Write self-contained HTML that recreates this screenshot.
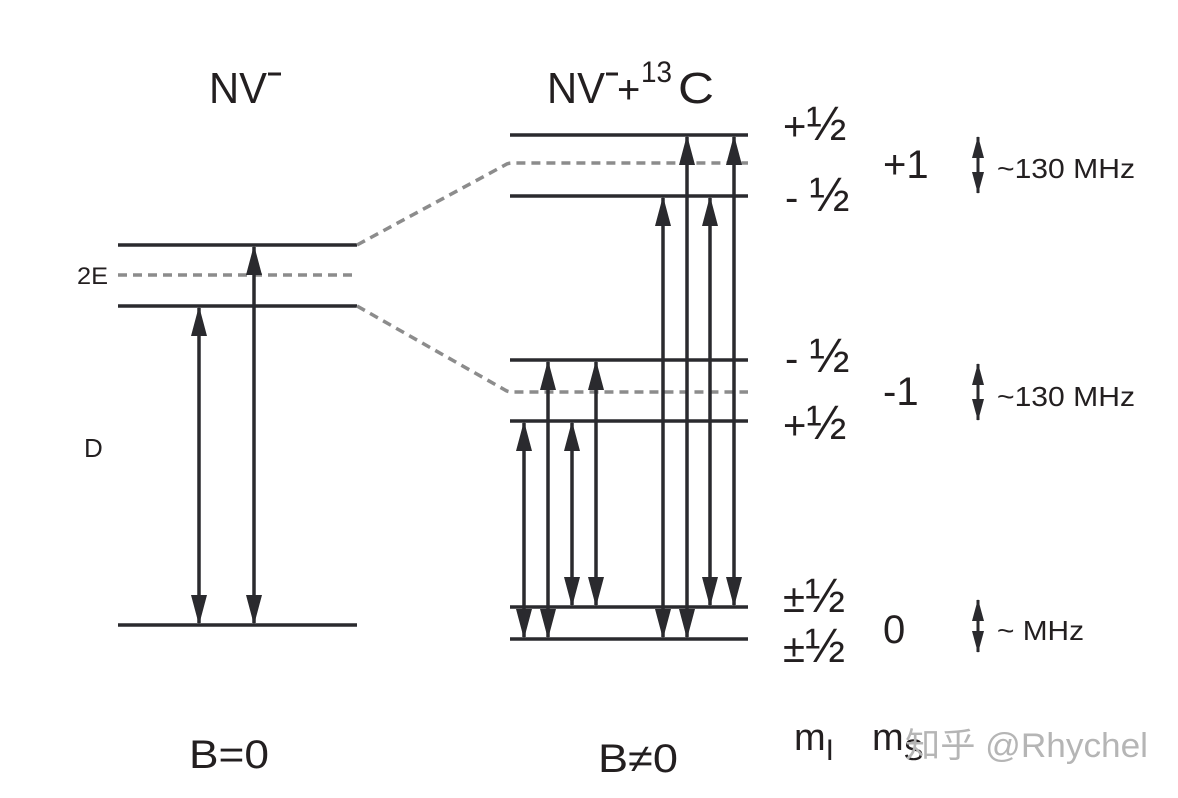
<!DOCTYPE html>
<html><head><meta charset="utf-8"><style>
html,body{margin:0;padding:0;background:#fff;}
svg{display:block;}
text{font-family:"Liberation Sans","Noto Sans CJK SC",sans-serif;fill:#231f20;}
</style></head><body>
<svg width="1178" height="798" viewBox="0 0 1178 798" xmlns="http://www.w3.org/2000/svg">
<defs>
<marker id="a" viewBox="0 0 30 16" refX="28" refY="8" markerWidth="30" markerHeight="16" markerUnits="userSpaceOnUse" orient="auto-start-reverse">
<path d="M0,0 L30,8 L0,16 z" fill="#2a2a2e"/>
</marker>
<marker id="b" viewBox="0 0 22 12" refX="21" refY="6" markerWidth="22" markerHeight="12" markerUnits="userSpaceOnUse" orient="auto-start-reverse">
<path d="M0,0 L22,6 L0,12 z" fill="#2a2a2e"/>
</marker>
</defs>
<g stroke="#2a2a2e" stroke-width="3.5" fill="none">
<line x1="118" y1="245" x2="357" y2="245"/>
<line x1="118" y1="306" x2="357" y2="306"/>
<line x1="118" y1="625" x2="357" y2="625"/>
<line x1="510" y1="135" x2="748" y2="135"/>
<line x1="510" y1="196" x2="748" y2="196"/>
<line x1="510" y1="360" x2="748" y2="360"/>
<line x1="510" y1="421" x2="748" y2="421"/>
<line x1="510" y1="607" x2="748" y2="607"/>
<line x1="510" y1="639" x2="748" y2="639"/>
</g>
<g stroke="#8c8c8c" stroke-width="3.5" stroke-dasharray="9,6" fill="none">
<line x1="118" y1="275" x2="357" y2="275"/>
<path d="M357,245 L505,165 Q508,163 512,163 L748,163"/>
<path d="M357,306 L505,390 Q508,392 512,392 L748,392"/>
</g>
<g stroke="#2a2a2e" stroke-width="3.5" marker-start="url(#a)" marker-end="url(#a)">
<line x1="199" y1="308" x2="199" y2="623"/>
<line x1="254" y1="247" x2="254" y2="623"/>
<line x1="524" y1="423" x2="524" y2="637"/>
<line x1="548" y1="362" x2="548" y2="637"/>
<line x1="572" y1="423" x2="572" y2="605"/>
<line x1="596" y1="362" x2="596" y2="605"/>
<line x1="663" y1="198" x2="663" y2="637"/>
<line x1="687" y1="137" x2="687" y2="637"/>
<line x1="710" y1="198" x2="710" y2="605"/>
<line x1="734" y1="137" x2="734" y2="605"/>
</g>
<g stroke="#2a2a2e" stroke-width="3" marker-start="url(#b)" marker-end="url(#b)">
<line x1="978" y1="137" x2="978" y2="193"/>
<line x1="978" y1="364" x2="978" y2="420"/>
<line x1="978" y1="600" x2="978" y2="652"/>
</g>
<text x="209" y="103" font-size="44" textLength="58" lengthAdjust="spacingAndGlyphs">NV</text>
<line x1="268" y1="74" x2="281" y2="74" stroke="#231f20" stroke-width="3"/>
<text x="547" y="103" font-size="44" textLength="58" lengthAdjust="spacingAndGlyphs">NV</text>
<line x1="606" y1="74" x2="618" y2="74" stroke="#231f20" stroke-width="3"/>
<text x="617" y="103" font-size="40">+</text>
<text x="641" y="82" font-size="30" textLength="31" lengthAdjust="spacingAndGlyphs">13</text>
<text x="678" y="103" font-size="44" textLength="36" lengthAdjust="spacingAndGlyphs">C</text>
<text x="77" y="284" font-size="24" textLength="31" lengthAdjust="spacingAndGlyphs">2E</text>
<text x="84" y="457" font-size="26">D</text>
<g font-size="40">
<text x="783" y="140">+<tspan font-size="48">½</tspan></text>
<text x="785" y="211">- <tspan font-size="48">½</tspan></text>
<text x="785" y="372">- <tspan font-size="48">½</tspan></text>
<text x="783" y="439">+<tspan font-size="48">½</tspan></text>
<text x="783" y="612">±<tspan font-size="48">½</tspan></text>
<text x="783" y="662">±<tspan font-size="48">½</tspan></text>
</g>
<g font-size="40">
<text x="883" y="178">+1</text>
<text x="883" y="405">-1</text>
<text x="883" y="643">0</text>
</g>
<g font-size="28">
<text x="997" y="178" textLength="138" lengthAdjust="spacingAndGlyphs">~130 MHz</text>
<text x="997" y="406" textLength="138" lengthAdjust="spacingAndGlyphs">~130 MHz</text>
<text x="997" y="640" textLength="87" lengthAdjust="spacingAndGlyphs">~ MHz</text>
</g>
<text x="189" y="768" font-size="40" textLength="80" lengthAdjust="spacingAndGlyphs">B=0</text>
<text x="598" y="772" font-size="40" textLength="80" lengthAdjust="spacingAndGlyphs">B≠0</text>
<text x="794" y="750" font-size="38">m<tspan dy="10" font-size="30">I</tspan></text>
<text x="872" y="750" font-size="38">m<tspan dy="10" font-size="30">S</tspan></text>
<text x="905" y="757" font-size="34" style="fill:#b5b5b5" textLength="243" lengthAdjust="spacingAndGlyphs">知乎 @Rhychel</text>
</svg>
</body></html>
